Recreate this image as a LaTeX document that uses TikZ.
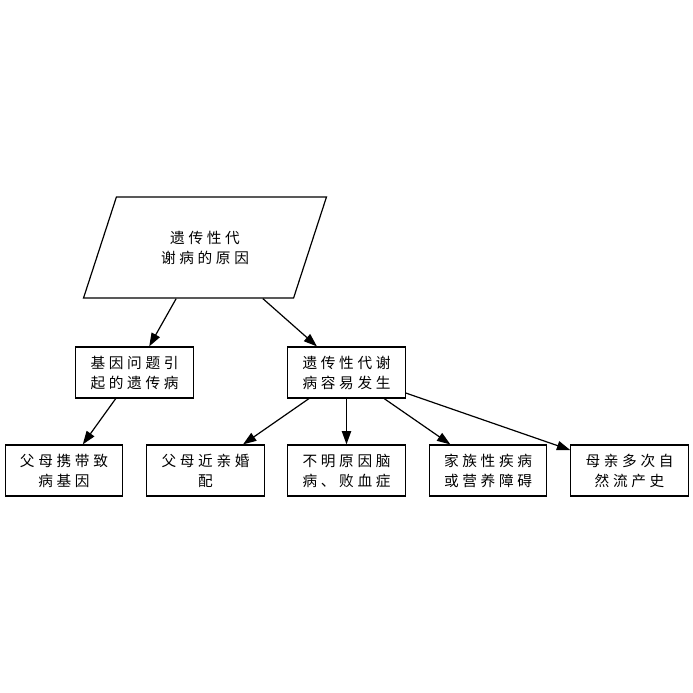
\documentclass[tikz,border=0pt]{standalone}
\usepackage{fontspec}
\newfontfamily\cjk[LetterSpace=25]{Noto Sans CJK SC}
\usetikzlibrary{arrows.meta,shapes.geometric}

\begin{document}
\begin{tikzpicture}[x=0.75pt,y=-0.75pt,
  every node/.style={font=\cjk\fontsize{11}{15}\selectfont,align=center,inner sep=0pt},
  cause/.style={draw,line width=0.9pt,minimum width=88pt,minimum height=38.25pt},
  root/.style={draw,line width=0.9pt,trapezium,trapezium left angle=64,trapezium right angle=116,
    trapezium stretches=true,minimum width=183pt,minimum height=75.75pt},
  link/.style={line width=0.9pt,-{Triangle[length=10pt,width=7pt]}}]
\useasboundingbox (0,0) rectangle (693,693);
\node [root] (why) at (205,247.5) {遗传性代\\谢病的原因};
\node [cause] (gene) at (134.5,372.5) {基因问题引\\起的遗传病};
\node [cause] (easy) at (346.5,372.5) {遗传性代谢\\病容易发生};
\node [cause] (carry) at (64,470.5) {父母携带致\\病基因};
\node [cause] (kin) at (205.5,470.5) {父母近亲婚\\配};
\node [cause] (brain) at (346.5,470.5) {不明原因脑\\病、败血症};
\node [cause] (family) at (488,470.5) {家族性疾病\\或营养障碍};
\node [cause] (mother) at (629.5,470.5) {母亲多次自\\然流产史};
\draw [link] (why) -- (gene);
\draw [link] (why) -- (easy);
\draw [link] (gene) -- (carry);
\draw [link] (easy) -- (kin);
\draw [link] (easy) -- (brain);
\draw [link] (easy) -- (family);
\draw [link] (easy) -- (mother);
\end{tikzpicture}
\end{document}
